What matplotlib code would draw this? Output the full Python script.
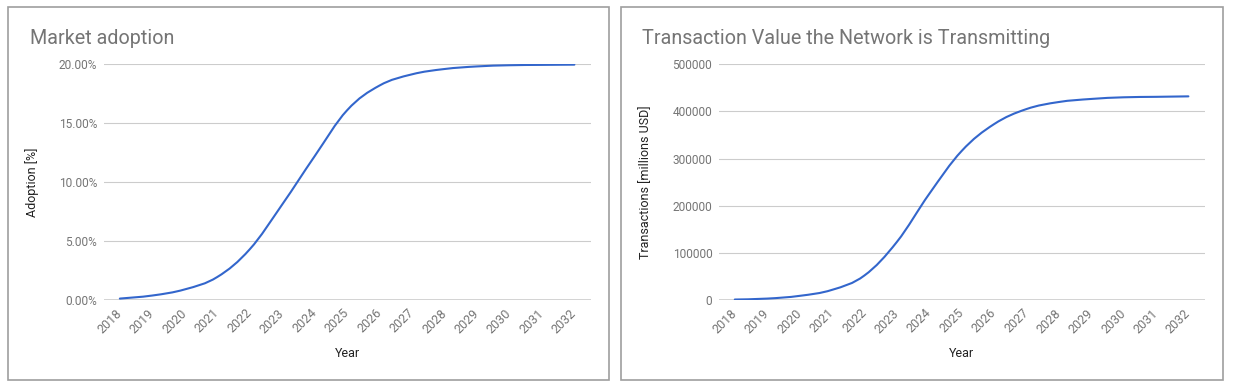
import numpy as np
import matplotlib
matplotlib.use("Agg")
import matplotlib.pyplot as plt
from matplotlib.path import Path
from matplotlib.patches import PathPatch, Rectangle
from matplotlib.ticker import FuncFormatter, FixedLocator

plt.rcParams['font.family'] = ['Roboto', 'DejaVu Sans']

# Données
annees = [2018, 2019, 2020, 2021, 2022, 2023, 2024, 2025,
          2026, 2027, 2028, 2029, 2030, 2031, 2032]
adoption = [0.12, 0.38, 0.9, 1.95, 4.3, 8.1, 12.2, 16.1,
            18.2, 19.15, 19.6, 19.82, 19.92, 19.95, 19.97]
transactions = [1000, 3000, 8800, 21500, 52000, 123000, 225000, 316000,
                373000, 405000, 420000, 426500, 430000, 431000, 432000]

BLEU = '#3366cc'
GRIS = '#757575'
W, H = 1234, 387


def courbe_lisse(ax, xs, ys, couleur):
    """Tracer une courbe lissee (Bezier) passant par les points."""
    pts = np.column_stack([xs, ys]).astype(float)
    n = len(pts)
    verts = [pts[0]]
    codes = [Path.MOVETO]
    for i in range(n - 1):
        p0 = pts[i - 1] if i > 0 else pts[i]
        p1 = pts[i]
        p2 = pts[i + 1]
        p3 = pts[i + 2] if i + 2 < n else pts[i + 1]
        c1 = p1 + (p2 - p0) / 5.5
        c2 = p2 - (p3 - p1) / 5.5
        verts += [c1, c2, p2]
        codes += [Path.CURVE4] * 3
    patch = PathPatch(Path(verts, codes), facecolor='none', edgecolor=couleur,
                      lw=1.5, capstyle='round', zorder=3)
    ax.add_patch(patch)


def preparer_axe(ax, valeurs, ymax, pas, fmt, titre_y):
    xs = np.arange(len(annees)) + 0.5
    courbe_lisse(ax, xs, valeurs, BLEU)
    ax.set_xlim(0, len(annees))
    ax.set_ylim(0, ymax)
    ax.yaxis.set_major_locator(FixedLocator(np.arange(0, ymax + pas / 2, pas)))
    ax.yaxis.set_major_formatter(FuncFormatter(fmt))
    ax.set_xticks(xs)
    ax.set_xticklabels([str(a) for a in annees], rotation=45, ha='right',
                       va='center', rotation_mode='anchor')
    ax.tick_params(axis='both', length=0, labelsize=8.6, labelcolor=GRIS)
    ax.tick_params(axis='x', pad=8.0, labelsize=9)
    ax.tick_params(axis='y', pad=4.5)
    for s in ax.spines.values():
        s.set_visible(False)
    ax.grid(axis='y', color='#cccccc', lw=0.8)
    ax.set_axisbelow(True)
    ax.axhline(0, color='#333333', lw=1.0, zorder=2)
    ax.set_xlabel('Year', fontsize=9, color='#222222')
    ax.xaxis.set_label_coords(0.5, -0.2)
    ax.set_ylabel(titre_y, fontsize=9, color='#222222')


fig = plt.figure(figsize=(W / 100, H / 100), dpi=100)

# Cadres des deux graphiques
for x0, x1 in [(8, 609), (621, 1223)]:
    fig.add_artist(Rectangle((x0 / W, 1 - 379.5 / H), (x1 - x0) / W, 372.5 / H,
                             transform=fig.transFigure, fill=False,
                             edgecolor='#9e9e9e', lw=1.2))

ax1 = fig.add_axes([103.6 / W, 1 - 300 / H, 487 / W, 235.7 / H])
preparer_axe(ax1, adoption, 20, 5, lambda v, p: f"{v:.2f}%", 'Adoption [%]')
ax1.yaxis.set_label_coords(-0.133, 0.5)

ax2 = fig.add_axes([718.6 / W, 1 - 300 / H, 486 / W, 235.7 / H])
preparer_axe(ax2, transactions, 500000, 100000, lambda v, p: f"{int(v)}",
             'Transactions [millions USD]')
ax2.yaxis.set_label_coords(-0.137, 0.5)

fig.text(29.5 / W, 1 - 43.5 / H, 'Market adoption', fontsize=14.2, color=GRIS,
         va='baseline')
fig.text(642 / W, 1 - 43.5 / H, 'Transaction Value the Network is Transmitting',
         fontsize=14.2, color=GRIS, va='baseline')

fig.savefig('out.png', dpi=100, facecolor='white')
